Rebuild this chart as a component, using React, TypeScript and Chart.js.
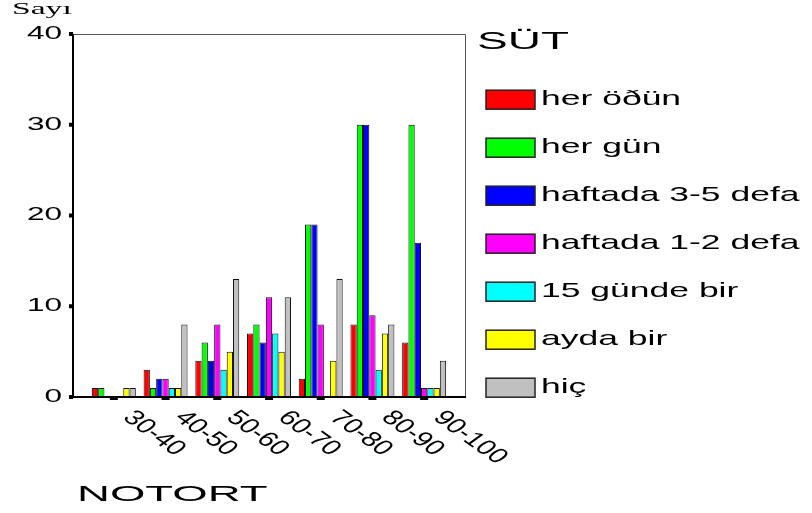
import React, { useEffect, useRef } from "react";
import { Chart, registerables } from "chart.js";

Chart.register(...registerables);

const categories = ["30-40", "40-50", "50-60", "60-70", "70-80", "80-90", "90-100"];
const seriesLabels = [
  "her öðün",
  "her gün",
  "haftada 3-5 defa",
  "haftada 1-2 defa",
  "15 günde bir",
  "ayda bir",
  "hiç",
];
const herOgun = [1, 3, 4, 7, 2, 8, 6];
const herGun = [1, 1, 6, 8, 19, 30, 30];
const haftada35 = [0, 2, 4, 6, 19, 30, 17];
const haftada12 = [0, 2, 8, 11, 8, 9, 1];
const onBesGundeBir = [0, 1, 3, 7, 0, 3, 1];
const aydaBir = [1, 1, 5, 5, 4, 7, 1];
const hic = [1, 8, 13, 11, 13, 8, 4];
const yTicks = [0, 10, 20, 30, 40];
const seriesColors = ["#FF0000", "#00FF00", "#0000FF", "#FF00FF", "#00FFFF", "#FFFF00", "#C0C0C0"];
const legendTitle = "SÜT";
const xTitle = "NOTORT";
const yTitle = "Sayı";

const SANS = "'Liberation Sans', Arial, sans-serif";
const SERIF = "'Liberation Serif', 'Times New Roman', serif";

function stretchText(
  ctx: CanvasRenderingContext2D,
  s: string,
  x: number,
  y: number,
  size: number,
  sx: number,
  align: "left" | "right" | "center",
  family: string = SANS
) {
  ctx.save();
  ctx.font = `${size}px ${family}`;
  ctx.textBaseline = "middle";
  ctx.textAlign = "left";
  const w = ctx.measureText(s).width * sx;
  const x0 = align === "right" ? x - w : align === "center" ? x - w / 2 : x;
  ctx.translate(x0, y);
  ctx.scale(sx, 1);
  ctx.fillStyle = "#000";
  ctx.fillText(s, 0, 0);
  ctx.restore();
}

const decorPlugin = {
  id: "spssDecor",
  afterDatasetsDraw(chart: any) {
    const ctx: CanvasRenderingContext2D = chart.ctx;
    const area = chart.chartArea;
    const xs = chart.scales.x;
    const ys = chart.scales.y;
    const left = area.left - 15;
    const right = area.right + 15;
    const top = ys.getPixelForValue(40);
    const base = ys.getPixelForValue(0);

    ctx.save();
    // frame
    ctx.strokeStyle = "#555";
    ctx.lineWidth = 1;
    ctx.beginPath();
    ctx.moveTo(left, top + 0.5);
    ctx.lineTo(right + 0.5, top + 0.5);
    ctx.lineTo(right + 0.5, base);
    ctx.stroke();
    ctx.strokeStyle = "#000";
    ctx.lineWidth = 2;
    ctx.beginPath();
    ctx.moveTo(left, top);
    ctx.lineTo(left, base);
    ctx.lineTo(right + 1, base);
    ctx.stroke();

    // y ticks
    ctx.fillStyle = "#000";
    yTicks.forEach((v) => {
      const py = ys.getPixelForValue(v);
      ctx.fillRect(left - 4, py - 2, 4, 4);
      stretchText(ctx, String(v), left - 11, py, 18, 1.75, "right");
    });

    // x ticks and rotated labels
    categories.forEach((c, i) => {
      const px = xs.getPixelForValue(i);
      ctx.fillStyle = "#000";
      ctx.fillRect(px - 4, base, 8, 3);
      ctx.save();
      ctx.translate(px + 24, base + 10);
      ctx.scale(1.4, 1);
      ctx.rotate(Math.PI / 4);
      ctx.font = `21px ${SANS}`;
      ctx.textBaseline = "top";
      ctx.textAlign = "left";
      ctx.fillText(c, 0, 0);
      ctx.restore();
    });

    // titles
    stretchText(ctx, xTitle, left + 4, 495, 22, 2.07, "left");
    stretchText(ctx, yTitle, 12, 10, 16, 2.1, "left", SERIF);
    stretchText(ctx, legendTitle, 477, 43, 23, 2.0, "left");

    // legend
    chart.data.datasets.forEach((ds: any, i: number) => {
      const cy = 99.7 + i * 48;
      ctx.fillStyle = ds.backgroundColor;
      ctx.fillRect(486, cy - 9.5, 49, 19);
      ctx.strokeStyle = "#222";
      ctx.lineWidth = 1.5;
      ctx.strokeRect(486, cy - 9.5, 49, 19);
      stretchText(ctx, ds.label, 541, cy, 21, 1.69, "left");
    });
    ctx.restore();
  },
};

export default function App() {
  const ref = useRef<HTMLCanvasElement | null>(null);
  useEffect(() => {
    if (!ref.current) return;
    const series = [herOgun, herGun, haftada35, haftada12, onBesGundeBir, aydaBir, hic];
    const chart = new Chart(ref.current, {
      type: "bar",
      data: {
        labels: categories,
        datasets: series.map((d, i) => ({
          label: seriesLabels[i],
          data: d,
          backgroundColor: seriesColors[i],
          borderColor: "#111",
          borderWidth: 1,
          categoryPercentage: 0.85,
          barPercentage: 1.0,
        })),
      },
      options: {
        responsive: false,
        animation: false,
        layout: { padding: { left: 88, right: 362, top: 34, bottom: 116 } },
        plugins: { legend: { display: false }, tooltip: { enabled: false } },
        scales: {
          x: { display: false, offset: true },
          y: { display: false, min: 0, max: 40 },
        },
      },
      plugins: [decorPlugin],
    });
    return () => chart.destroy();
  }, []);
  return (
    <div style={{ position: "absolute", left: 0, top: 0, width: 812, height: 513, background: "#fff" }}>
      <canvas ref={ref} width={812} height={513} />
    </div>
  );
}
